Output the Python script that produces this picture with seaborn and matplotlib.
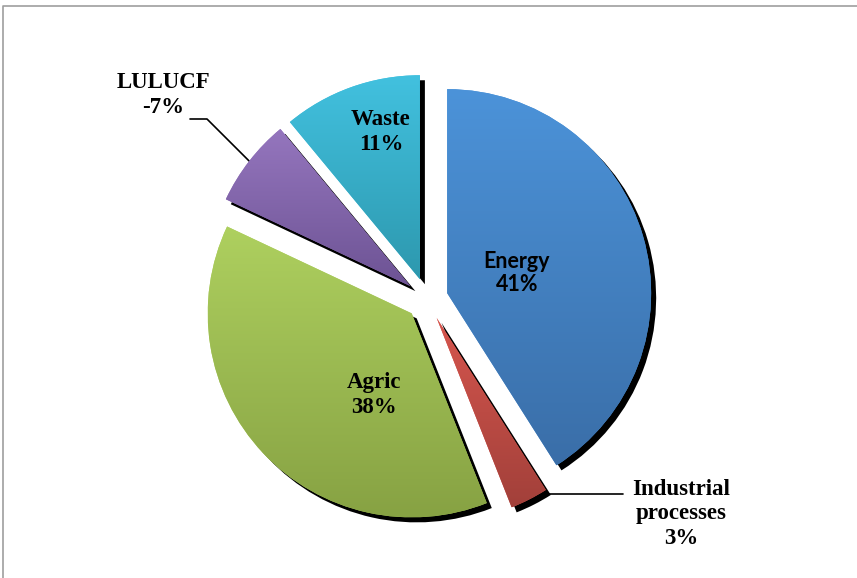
import numpy as np
import matplotlib
matplotlib.use("Agg")
import matplotlib.pyplot as plt
import matplotlib.transforms as mtransforms
from matplotlib.patches import Wedge
from matplotlib.colors import LinearSegmentedColormap
import seaborn as sns

# Emission shares by sector (percent); LULUCF is a net sink
sectors = ["Energy", "Industrial\nprocesses", "Agric", "LULUCF", "Waste"]
shares = [41, 3, 38, -7, 11]

# Gradient colours per slice: (top, bottom)
top_colors = ["#4C93D9", "#D6564E", "#AED05F", "#9576BE", "#42C1DF"]
bottom_colors = ["#3A6EA8", "#A2403A", "#87A243", "#6D5394", "#2D98AE"]

W, H = 857, 578
sns.set_theme(style="white")

fig = plt.figure(figsize=(W / 100, H / 100), dpi=100)
ax = fig.add_axes([0, 0, 1, 1])

def sy(y):
    return H - y

center = (427, sy(299))
radius = 204
gap = 21

wedges, _ = ax.pie(
    np.abs(shares),
    colors=top_colors,
    startangle=90,
    counterclock=False,
    radius=radius,
    center=center,
    explode=[gap] * len(shares),
    wedgeprops=dict(linewidth=0, zorder=2),
)

# Drop shadow behind each slice
shadow_tf = mtransforms.offset_copy(ax.transData, fig=fig, x=5, y=-5, units="dots")
for w in wedges:
    sh = Wedge(w.center, w.r, w.theta1, w.theta2, facecolor="black",
               edgecolor="none", transform=shadow_tf, zorder=1)
    ax.add_patch(sh)

# Vertical gradient fill clipped to each slice
grad = np.linspace(0, 1, 256).reshape(-1, 1)
for w, c_top, c_bot in zip(wedges, top_colors, bottom_colors):
    ext = w.get_path().get_extents()
    cmap = LinearSegmentedColormap.from_list("g", [c_bot, c_top])
    im = ax.imshow(grad, cmap=cmap, origin="lower", aspect="auto",
                   extent=[ext.x0, ext.x1, ext.y0, ext.y1], zorder=2.5,
                   interpolation="bilinear")
    im.set_clip_path(w)

def edge_point(w, frac=1.0):
    ang = np.deg2rad(0.5 * (w.theta1 + w.theta2))
    return (w.center[0] + frac * w.r * np.cos(ang),
            w.center[1] + frac * w.r * np.sin(ang))

serif = dict(family="Liberation Serif", fontweight="bold", fontsize=16.5,
             color="black", ha="center", va="center", linespacing=1.22, zorder=5)

labels = [f"{s}\n{v}%" for s, v in zip(sectors, shares)]

# Labels inside the slices
ax.text(517, sy(273), labels[0], family="Lato", fontweight="bold", fontsize=15.5,
        ha="center", va="center", linespacing=1.12, color="black", zorder=5)
ax.text(374, sy(395), labels[2], **serif)
ax.text(381, sy(132), labels[4], **serif)

# Outside labels with leader lines
lx, ly = edge_point(wedges[3])
ax.plot([lx, 207, 190], [ly, sy(119), sy(119)], color="black", lw=1.2, zorder=0.5)
ax.text(163, sy(95), labels[3], **serif)

ix, iy = edge_point(wedges[1], 0.97)
ax.plot([ix, 623], [sy(494), sy(494)], color="black", lw=1.2, zorder=0.5)
ax.text(681, sy(514), labels[1], **serif)

# Chart frame
ax.plot([3.5, 3.5, W], [0, sy(5.5), sy(5.5)], color="#9E9E9E", lw=1.2, zorder=6,
        clip_on=False)

ax.set_xlim(0, W)
ax.set_ylim(0, H)
ax.set_aspect("auto")
ax.axis("off")

fig.savefig("out.png", dpi=100, facecolor="white")
